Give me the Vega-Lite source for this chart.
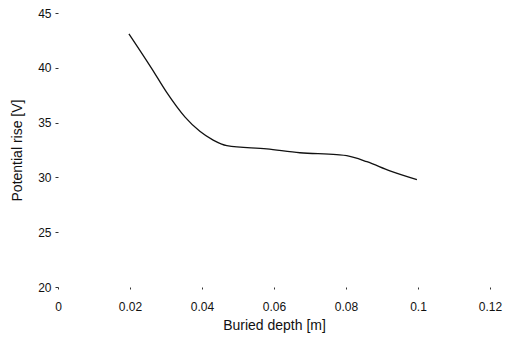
{
  "$schema": "https://vega.github.io/schema/vega-lite/v6.json",
  "autosize": "none",
  "width": 432,
  "height": 274,
  "padding": {"left": 58, "top": 13, "right": 15, "bottom": 56},
  "background": "white",
  "config": {
    "view": {"stroke": null},
    "font": "Liberation Sans",
    "axis": {
      "grid": false,
      "domain": false,
      "labelFont": "Liberation Sans",
      "titleFont": "Liberation Sans",
      "labelColor": "#111",
      "titleColor": "#111",
      "tickColor": "#333",
      "titleFontWeight": "normal",
      "labelFontSize": 12,
      "titleFontSize": 14
    }
  },
  "data": {
    "values": [
      {"depth": 0.0197, "rise": 43.1},
      {"depth": 0.026, "rise": 39.95},
      {"depth": 0.0301, "rise": 37.8},
      {"depth": 0.0353, "rise": 35.5},
      {"depth": 0.0394, "rise": 34.2},
      {"depth": 0.0431, "rise": 33.4},
      {"depth": 0.0469, "rise": 32.9},
      {"depth": 0.058, "rise": 32.6},
      {"depth": 0.0672, "rise": 32.25},
      {"depth": 0.0774, "rise": 32.07},
      {"depth": 0.0802, "rise": 31.98},
      {"depth": 0.0858, "rise": 31.43},
      {"depth": 0.0922, "rise": 30.6},
      {"depth": 0.0997, "rise": 29.8}
    ]
  },
  "mark": {"type": "line", "color": "#111", "strokeWidth": 1.3, "interpolate": "monotone"},
  "encoding": {
    "x": {
      "field": "depth",
      "type": "quantitative",
      "scale": {"domain": [0, 0.12], "nice": false},
      "axis": {
        "title": "Buried depth [m]",
        "values": [0, 0.02, 0.04, 0.06, 0.08, 0.1, 0.12],
        "format": ".2~f",
        "tickSize": 2,
        "labelPadding": 12,
        "titlePadding": 6,
        "labelFlush": false
      }
    },
    "y": {
      "field": "rise",
      "type": "quantitative",
      "scale": {"domain": [20, 45], "nice": false, "zero": false},
      "axis": {
        "title": "Potential rise [V]",
        "values": [20, 25, 30, 35, 40, 45],
        "tickSize": 3,
        "labelPadding": 4,
        "titlePadding": 13,
        "labelFlush": false
      }
    }
  }
}
